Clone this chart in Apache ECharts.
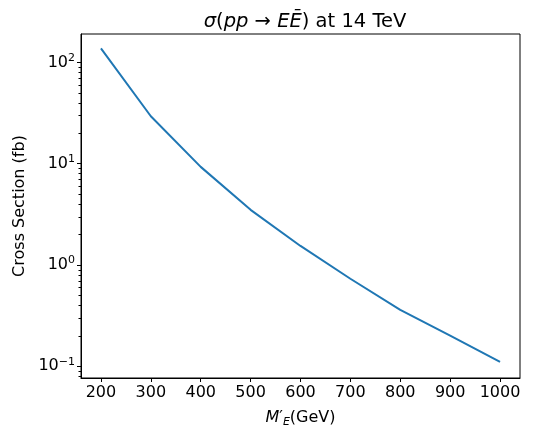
<!DOCTYPE html>
<html>
<head>
<meta charset="utf-8">
<script src="https://cdn.jsdelivr.net/npm/echarts@6/dist/echarts.min.js"></script>
<style>
html,body{margin:0;padding:0;background:#fff;}
#chart{width:559px;height:433px;}
</style>
</head>
<body>
<div id="chart"></div>
<script>
// Data
const massGeV = [200, 300, 400, 500, 600, 700, 800, 900, 1000];
const crossSectionFb = [138, 29.4, 9.3, 3.5, 1.54, 0.73, 0.36, 0.2, 0.11];
const xTicks = [200, 300, 400, 500, 600, 700, 800, 900, 1000];
const yTicks = [0.1, 1, 10, 100];
const yMinorTicks = [0.08, 0.09, 0.2, 0.3, 0.4, 0.5, 0.6, 0.7, 0.8, 0.9,
  2, 3, 4, 5, 6, 7, 8, 9, 20, 30, 40, 50, 60, 70, 80, 90];

const FONT = 'DejaVu Sans';
const chart = echarts.init(document.getElementById('chart'), null, {renderer: 'canvas'});

function supLabel(v) {
  const e = Math.round(Math.log10(v));
  return '10{sup|' + (e < 0 ? '\u2212' + (-e) : e) + '}';
}

const xMin = 160, xMax = 1040, yMin = 0.0764, yMax = 191;

chart.setOption({
  animation: false,
  backgroundColor: '#fff',
  title: {
    text: '{i|\u03c3}(' + '{i|pp}' + ' \u2192 ' + '{i|E\u0112}) at 14 TeV',
    left: 300, top: 7, textAlign: 'center',
    textStyle: {
      fontFamily: FONT, fontSize: 19.5, fontWeight: 'normal', color: '#000',
      rich: { i: { fontFamily: FONT, fontSize: 19.5, fontStyle: 'italic', color: '#000' } }
    }
  },
  grid: { left: 81, right: 39, top: 34, bottom: 49, show: true, borderColor: '#000', borderWidth: 1, containLabel: false },
  xAxis: {
    type: 'value', min: xMin, max: xMax,
    name: '{i|M}\u2032{sub|E}(GeV)', nameLocation: 'middle', nameGap: 30,
    nameTextStyle: {
      fontFamily: FONT, fontSize: 16, color: '#000',
      rich: {
        i: { fontFamily: FONT, fontSize: 16, fontStyle: 'italic', color: '#000' },
        sub: { fontFamily: FONT, fontSize: 11, fontStyle: 'italic', color: '#000', padding: [9, 0, 0, 0] }
      }
    },
    axisLine: { show: true, lineStyle: { color: '#000', width: 1 } },
    axisTick: { show: true, inside: false, length: 4, customValues: xTicks, lineStyle: { color: '#000', width: 1 } },
    axisLabel: { customValues: xTicks, formatter: v => String(v), fontFamily: FONT, fontSize: 16, color: '#000', margin: 7 },
    splitLine: { show: false }
  },
  yAxis: {
    type: 'log', min: yMin, max: yMax, logBase: 10,
    name: 'Cross Section (fb)', nameLocation: 'middle', nameGap: 53,
    nameTextStyle: { fontFamily: FONT, fontSize: 16, color: '#000' },
    axisLine: { show: true, lineStyle: { color: '#000', width: 1 } },
    axisTick: { show: true, inside: false, length: 4, customValues: yTicks, lineStyle: { color: '#000', width: 1 } },
    axisLabel: {
      customValues: yTicks, formatter: supLabel, margin: 6,
      fontFamily: FONT, fontSize: 16, color: '#000',
      rich: { sup: { fontFamily: FONT, fontSize: 11, color: '#000', padding: [0, 0, 9, 0] } }
    },
    splitLine: { show: false }, minorSplitLine: { show: false }
  },
  series: [{
    type: 'line', data: massGeV.map((m, i) => [m, crossSectionFb[i]]),
    showSymbol: false, symbol: 'none', smooth: false,
    lineStyle: { color: '#1f77b4', width: 2 }, itemStyle: { color: '#1f77b4' }
  }, {
    // minor log ticks on the y axis, positioned through the axis scale
    type: 'custom', silent: true, clip: false, z: 10,
    data: yMinorTicks.map(v => [xMin, v]),
    renderItem: function (params, api) {
      const p = api.coord([api.value(0), api.value(1)]);
      const y = Math.round(p[1]) + 0.5;
      return {
        type: 'line',
        shape: { x1: p[0] - 2.5, y1: y, x2: p[0], y2: y },
        style: { stroke: '#000', lineWidth: 1 }
      };
    }
  }]
});
</script>
</body>
</html>
